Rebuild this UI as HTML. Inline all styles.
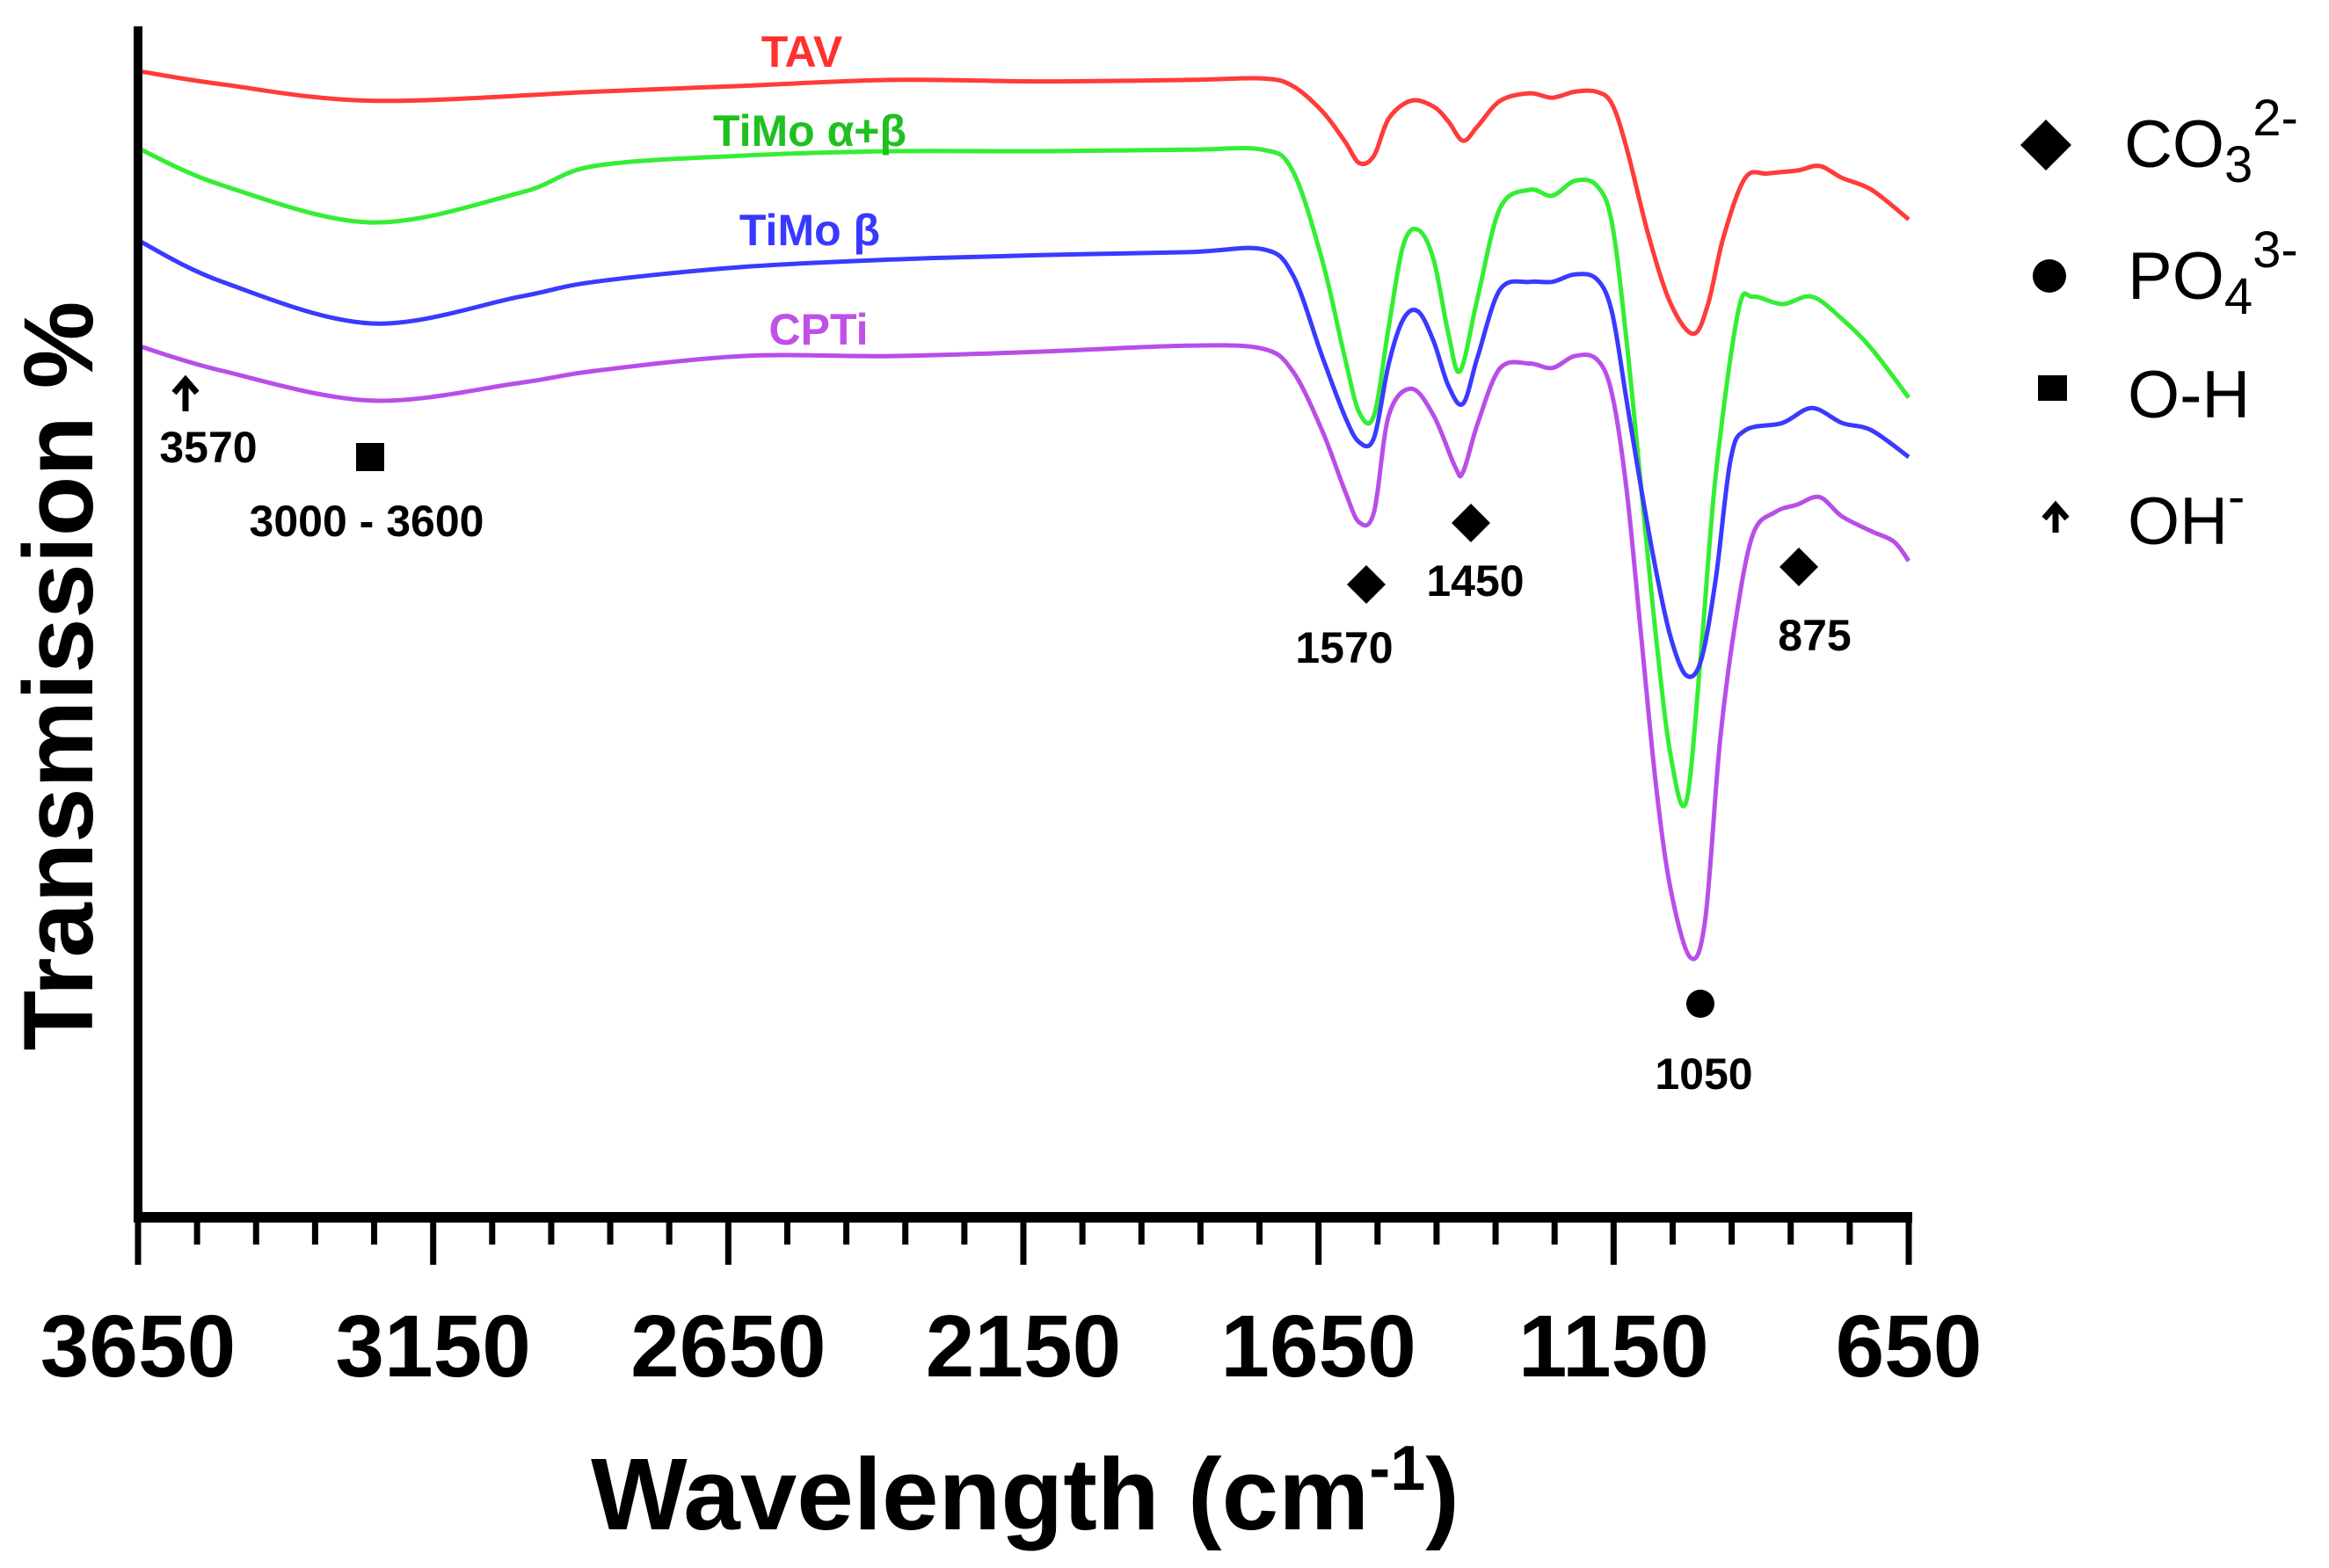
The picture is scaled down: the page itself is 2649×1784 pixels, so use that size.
<!DOCTYPE html>
<html><head><meta charset="utf-8"><style>
html,body{margin:0;padding:0;background:#fff;}
svg{display:block;}
text{font-family:"Liberation Sans",Arial,sans-serif;}
</style></head><body>
<svg id="chart" width="2649" height="1784" viewBox="0 0 2649 1784" xmlns="http://www.w3.org/2000/svg">
<g id="series"></g>
<g id="axes"></g>
<text transform="translate(105,769) rotate(-90)" text-anchor="middle" font-size="112" font-weight="bold">Transmission %</text>
<text x="1166" y="1740" text-anchor="middle" font-size="116" font-weight="bold">Wavelength (cm<tspan dy="-45" font-size="72">-1</tspan><tspan dy="45">)</tspan></text>
<g font-weight="bold" font-size="50" text-anchor="middle">
<text x="912" y="76" fill="#ff3030">TAV</text>
<text x="921" y="166" fill="#1fc01f">TiMo α+β</text>
<text x="921" y="279" fill="#3838ff">TiMo β</text>
<text x="931" y="392" fill="#c050e8">CPTi</text>
</g>
<g font-weight="bold" font-size="50" text-anchor="middle">
<path d="M211 468 V432 M198 447 L211 432 L224 447" stroke="#000" stroke-width="7" fill="none"/>
<text x="237" y="526">3570</text>
<rect x="405" y="504" width="32" height="32" fill="#000"/>
<text x="417" y="610">3000 - 3600</text>
<path d="M1554 643 L1576 665 L1554 687 L1532 665Z" fill="#000"/>
<text x="1529" y="754">1570</text>
<path d="M1673 573 L1695 595 L1673 617 L1651 595Z" fill="#000"/>
<text x="1678" y="678">1450</text>
<path d="M2046 623 L2068 645 L2046 667 L2024 645Z" fill="#000"/>
<text x="2064" y="740">875</text>
<circle cx="1934" cy="1142" r="16" fill="#000"/>
<text x="1938" y="1239">1050</text>
</g>
<g font-size="76">
<path d="M2327 136 L2356 165 L2327 194 L2298 165Z" fill="#000"/>
<text x="2416" y="190">CO<tspan font-size="58" dy="17">3</tspan><tspan font-size="58" dy="-53">2-</tspan></text>
<circle cx="2331" cy="314" r="19" fill="#000"/>
<text x="2420" y="340">PO<tspan font-size="58" dy="17">4</tspan><tspan font-size="58" dy="-53">3-</tspan></text>
<rect x="2318" y="427" width="33" height="29" fill="#000"/>
<text x="2420" y="475">O-H</text>
<path d="M2338 606 V575 M2325 590 L2338 575 L2351 590" stroke="#000" stroke-width="7" fill="none"/>
<text x="2420" y="619">OH<tspan font-size="58" dy="-34">-</tspan></text>
</g>
</svg>
<script>
const xTickLabels = [3650, 3150, 2650, 2150, 1650, 1150, 650];
const minorStep = 100;

const tavWn = [3650,3507,3255,2877,2626,2374,2122,1871,1745,1694,1644,1606,1581,1556,1531,1493,1455,1430,1405,1380,1342,1292,1254,1216,1179,1153,1128,1090,1053,1015,990,964,927,889,839,801,763,713,650];
const tavT = [772,763,752,758,762,766,765,766,767,762,745,725,710,715,740,752,748,738,725,735,752,757,754,758,758,750,720,660,615,595,615,660,700,703,705,708,700,692,672];

const timoAbWn = [3650,3507,3255,3003,2877,2626,2374,2122,1871,1745,1694,1644,1606,1581,1556,1531,1506,1481,1455,1430,1410,1380,1342,1292,1254,1216,1179,1153,1128,1103,1078,1053,1027,1002,977,939,914,864,814,763,713,650];
const timoAbT = [720,695,670,690,708,715,718,718,719,719,705,645,580,542,540,600,655,665,645,595,570,620,680,692,688,698,695,670,590,490,390,310,280,380,500,610,620,615,620,605,585,552];

const timoBWn = [3650,3507,3255,3003,2877,2626,2374,2122,1871,1745,1694,1644,1606,1581,1556,1531,1506,1481,1455,1430,1405,1380,1342,1292,1254,1216,1179,1153,1128,1103,1078,1053,1027,1002,977,952,927,864,814,763,713,650];
const timoBT = [658,630,602,620,630,640,645,648,650,652,635,580,540,522,525,575,605,610,590,560,548,580,625,630,630,635,632,610,550,490,435,390,365,375,430,510,530,535,545,535,530,512];

const cptiWn = [3650,3507,3255,3003,2877,2626,2374,2122,1871,1745,1694,1644,1606,1581,1556,1531,1493,1455,1418,1405,1380,1342,1292,1254,1216,1179,1153,1128,1103,1078,1053,1020,995,970,944,914,876,839,801,763,713,675,650];
const cptiT = [587,570,550,562,570,580,580,583,587,585,570,530,490,468,475,540,558,540,505,502,535,572,575,572,580,578,555,490,390,290,220,175,200,320,400,460,475,480,485,472,462,455,442];

const X0 = 157, X1 = 2171, Y0 = 1385, YTOP = 30;
function xs(v){ return X0 + (3650 - v) / 3000 * (X1 - X0); }
function ys(t){ return Y0 - t * 1.6894; }
const NS = 'http://www.w3.org/2000/svg';

function smoothPath(wn, tv){
  const p = wn.map((w,i)=>[xs(w), ys(tv[i])]);
  let d = 'M' + p[0][0].toFixed(1) + ' ' + p[0][1].toFixed(1);
  for (let i=0;i<p.length-1;i++){
    const a = p[Math.max(0,i-1)], b = p[i], c = p[i+1], e = p[Math.min(p.length-1,i+2)];
    const c1 = [b[0]+(c[0]-a[0])/6, b[1]+(c[1]-a[1])/6];
    const c2 = [c[0]-(e[0]-b[0])/6, c[1]-(e[1]-b[1])/6];
    d += ' C' + c1[0].toFixed(1)+' '+c1[1].toFixed(1)+' '+c2[0].toFixed(1)+' '+c2[1].toFixed(1)+' '+c[0].toFixed(1)+' '+c[1].toFixed(1);
  }
  return d;
}
const sg = document.getElementById('series');
function addSeries(name, wn, tv, color){
  const el = document.createElementNS(NS,'path');
  el.setAttribute('d', smoothPath(wn, tv));
  el.setAttribute('fill','none');
  el.setAttribute('stroke', color);
  el.setAttribute('stroke-width','5');
  el.setAttribute('stroke-linejoin','round');
  
  
  sg.appendChild(el);
}
addSeries('series-tav', tavWn, tavT, '#ff3b3b');
addSeries('series-timo-alpha-beta', timoAbWn, timoAbT, '#33ee33');
addSeries('series-timo-beta', timoBWn, timoBT, '#3a3aff');
addSeries('series-cpti', cptiWn, cptiT, '#b84ee8');

const ax = document.getElementById('axes');
function line(x1,y1,x2,y2,w,name){
  const l = document.createElementNS(NS,'line');
  l.setAttribute('x1',x1); l.setAttribute('y1',y1); l.setAttribute('x2',x2); l.setAttribute('y2',y2);
  l.setAttribute('stroke','#000'); l.setAttribute('stroke-width',w);
  
  
  ax.appendChild(l);
}
line(X0, YTOP, X0, Y0+6, 10, 'y-axis-line');
line(X0-5, Y0, X1+4, Y0, 12, 'x-axis-line');
for (let v=3650; v>=650; v-=minorStep){
  const major = xTickLabels.indexOf(v) >= 0;
  line(xs(v), Y0, xs(v), major ? 1439 : 1416, 7, major ? 'x-major-tick' : 'x-minor-tick');
}
xTickLabels.forEach(v=>{
  const t = document.createElementNS(NS,'text');
  t.setAttribute('x', xs(v)); t.setAttribute('y', 1566);
  t.setAttribute('text-anchor','middle'); t.setAttribute('font-size','100'); t.setAttribute('font-weight','bold');
  t.textContent = v;
  
  
  ax.appendChild(t);
});
</script>
</body></html>
